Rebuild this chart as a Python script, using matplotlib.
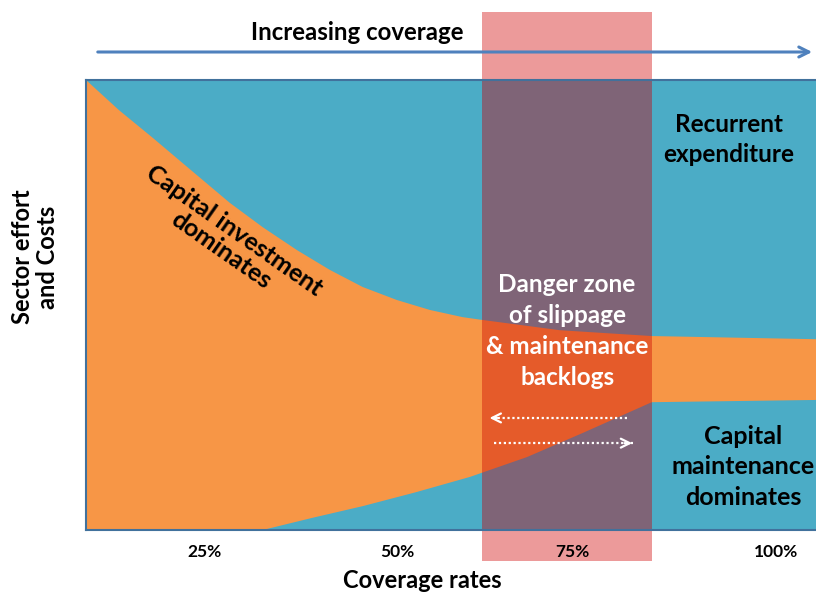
import numpy as np
import matplotlib
matplotlib.use('Agg')
from matplotlib import pyplot as plt
from matplotlib.patches import Rectangle, FancyArrowPatch

plt.rcParams['font.family'] = ['Lato', 'DejaVu Sans']
plt.rcParams['font.weight'] = 'bold'

# boundaries of the "capital investment" area (position along axis, effort)
upper_x = [0, 4.52, 9.18, 13.7, 19.7, 24.2, 28.9, 33.4, 37.9, 42.6, 47.1, 51.6,
           54.2, 64.9, 77.5, 100]
upper_y = [100, 93.3, 87.1, 80.9, 72.7, 67.3, 62.2, 57.8, 54.0, 51.1, 48.9, 47.3,
           46.7, 44.4, 43.1, 42.4]
lower_x = [0, 24.2, 31.0, 37.9, 45.2, 52.6, 60.4, 68.1, 77.5, 100]
lower_y = [0, 0, 2.7, 5.3, 8.4, 11.8, 16.2, 21.6, 28.4, 28.9]

danger_zone = (54.2, 77.5)

tick_pos = [16.3, 42.6, 66.6, 94.5]
tick_labels = ['25%', '50%', '75%', '100%']

teal = '#4BACC6'
orange = '#F79646'
pink = '#EC9A9A'
mauve = '#7F6477'
red_orange = '#E55B2A'

fig = plt.figure(figsize=(8.16, 5.94), dpi=100)
ax = fig.add_axes([86 / 816, 64 / 594, 1 - 86 / 816, 450 / 594])
ax.set_facecolor(teal)
ax.set_xlim(0, 100)
ax.set_ylim(0, 100)

poly_x = upper_x + lower_x[::-1]
poly_y = upper_y + lower_y[::-1]
ax.fill(poly_x, poly_y, color=orange, lw=0, zorder=1)

# pink band sticking out of the plot
band_w = danger_zone[1] - danger_zone[0]
ax.add_patch(Rectangle((danger_zone[0], -6.9), band_w, 122.0, color=pink,
                       lw=0, clip_on=False, zorder=0.5))
ax.add_patch(Rectangle((danger_zone[0], 0), band_w, 100, color=mauve, lw=0, zorder=2))
clip = Rectangle((danger_zone[0], 0), band_w, 100, transform=ax.transData)
red = ax.fill(poly_x, poly_y, color=red_orange, lw=0, zorder=3)[0]
red.set_clip_path(clip)

# dotted arrows inside the danger zone
ax.plot([74.1, 55.3], [24.9, 24.9], color='white', lw=1.6, ls=(0, (1, 1.2)), zorder=4)
ax.annotate('', xy=(54.9, 24.9), xytext=(56.7, 24.9),
            arrowprops=dict(arrowstyle='->', color='white', lw=1.6,
                            mutation_scale=16), zorder=4)
ax.plot([55.9, 74.9], [19.3, 19.3], color='white', lw=1.6, ls=(0, (1, 1.2)), zorder=4)
ax.annotate('', xy=(75.2, 19.3), xytext=(73.4, 19.3),
            arrowprops=dict(arrowstyle='->', color='white', lw=1.6,
                            mutation_scale=16), zorder=4)

for s in ['top', 'left', 'bottom']:
    ax.spines[s].set_color('#41719C')
    ax.spines[s].set_linewidth(1.5)
    ax.spines[s].set_zorder(5)
ax.spines['right'].set_visible(False)

ax.set_xticks(tick_pos)
ax.set_xticklabels(tick_labels, fontsize=12.5, fontweight='bold')
ax.tick_params(axis='x', length=0, pad=10)
ax.set_yticks([])

fig.text(422 / 816, 1 - 580 / 594, 'Coverage rates', fontsize=17,
         fontweight='bold', ha='center', va='center')
fig.text(35 / 816, 1 - 257 / 594, 'Sector effort\nand Costs', fontsize=17,
         fontweight='bold', ha='center', va='center', rotation=90, linespacing=1.1)

ax.text(19.4, 64.4, 'Capital investment\ndominates', rotation=-35, fontsize=18,
        fontweight='bold', ha='center', va='center', linespacing=1.05, zorder=6)
ax.text(88.1, 86.7, 'Recurrent\nexpenditure', fontsize=17.5, fontweight='bold',
        ha='center', va='center', linespacing=1.38, zorder=6)
ax.text(65.9, 44.2, 'Danger zone\nof slippage\n& maintenance\nbacklogs',
        fontsize=17.5, fontweight='bold', color='white', ha='center', va='center',
        linespacing=1.43, zorder=6)
ax.text(90.0, 14.0, 'Capital\nmaintenance\ndominates', fontsize=18,
        fontweight='bold', ha='center', va='center', linespacing=1.4, zorder=6)

# increasing coverage arrow on top
fig.text(357 / 816, 1 - 33 / 594, 'Increasing coverage', fontsize=17.3,
         fontweight='bold', ha='center', va='center')
fig.patches.append(FancyArrowPatch(
    (95 / 816, 1 - 52 / 594), (815 / 816, 1 - 52 / 594), transform=fig.transFigure,
    arrowstyle='->', mutation_scale=18, color='#4F81BD', lw=2.2))

fig.savefig('out.png', dpi=100)
